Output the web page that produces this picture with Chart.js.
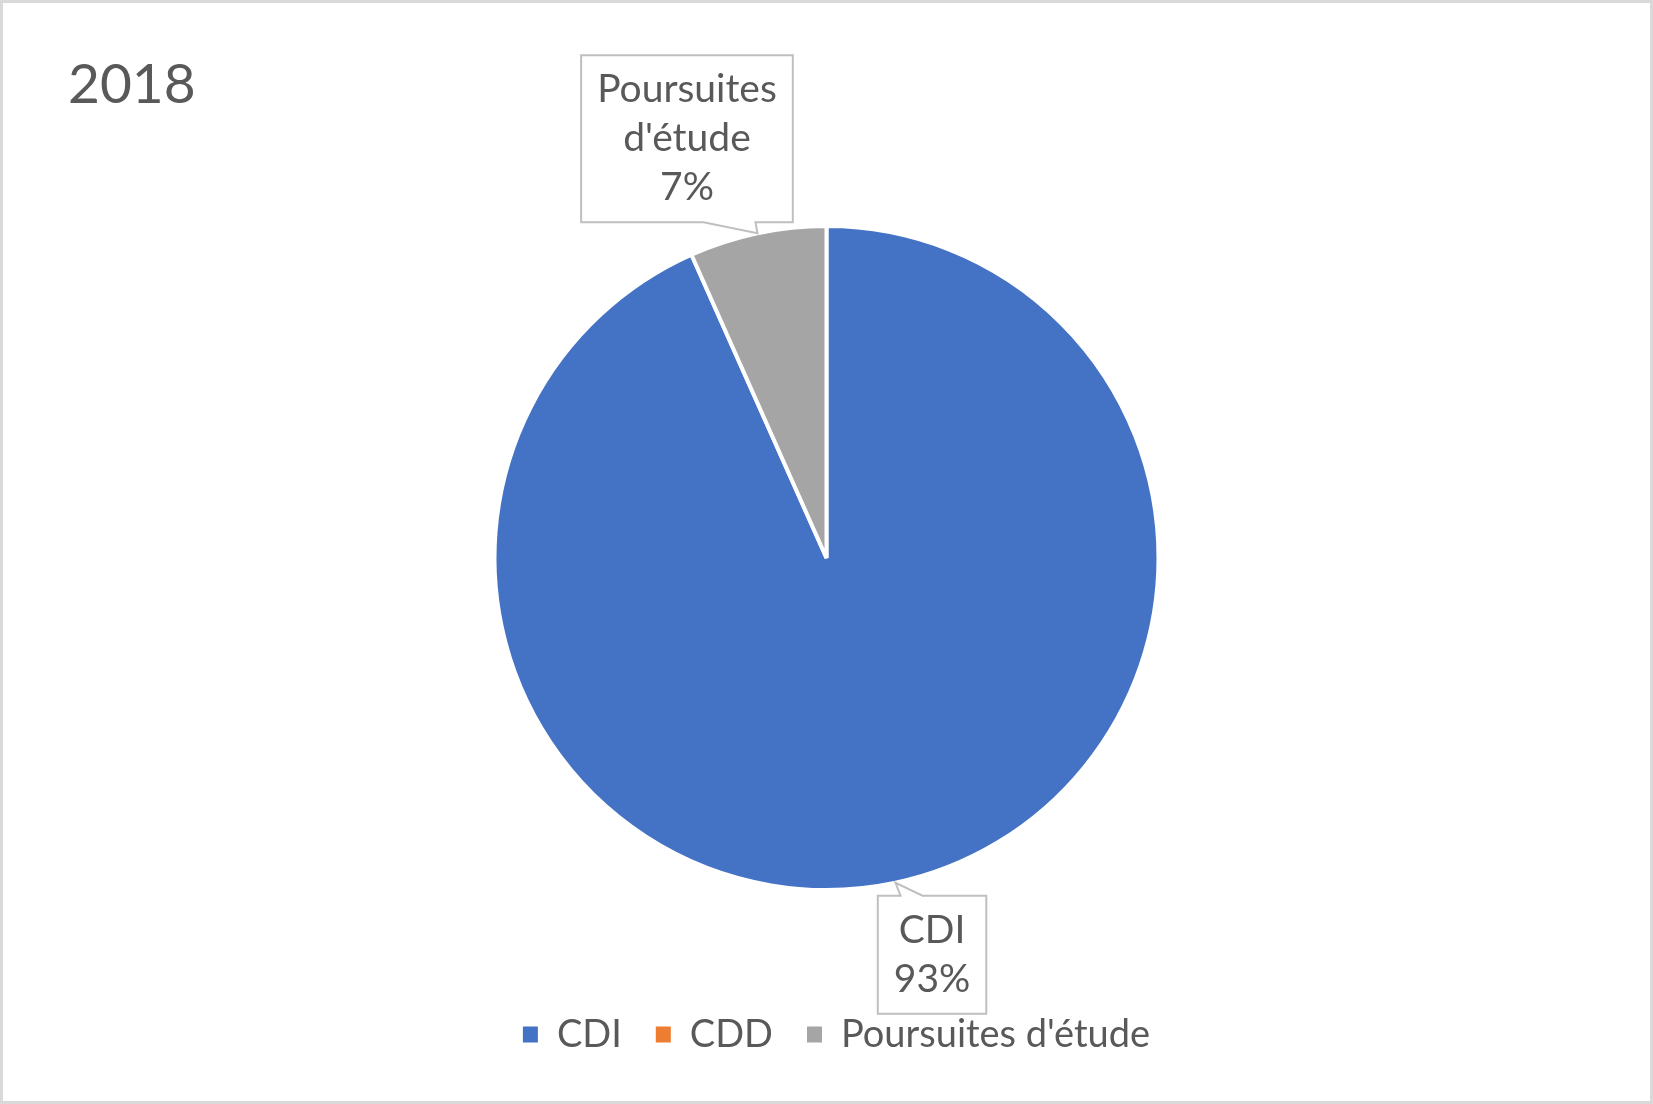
<!DOCTYPE html>
<html lang="fr">
<head>
<meta charset="utf-8">
<title>2018</title>
<script src="https://cdn.jsdelivr.net/npm/chart.js@4.4.1/dist/chart.umd.min.js"></script>
<style>
  html, body { margin: 0; padding: 0; background: #fff; }
  canvas { display: block; }
</style>
</head>
<body>
<canvas id="pieChart" width="1653" height="1104"></canvas>
<script>
const chartTitle = "2018";
const categories = ["CDI", "CDD", "Poursuites d'étude"];
const counts = [14, 0, 1];
const sliceColors = ["#4472C4", "#ED7D31", "#A5A5A5"];

const textColor = "#595959";
const fontFamily = "Lato, 'Open Sans', sans-serif";

// callout placement per slice: horizontal shift of the box and where the pointer leaves its edge
const calloutShift = [36.5, 0, -70.5];
const pointerBase = [[5, 27], [0, 0], [-54, -2]];

function wrapText(ctx, text, maxWidth) {
  const words = text.split(" ");
  const lines = [];
  let line = "";
  words.forEach(w => {
    const test = line ? line + " " + w : w;
    if (line && ctx.measureText(test).width > maxWidth) {
      lines.push(line);
      line = w;
    } else {
      line = test;
    }
  });
  if (line) lines.push(line);
  return lines;
}

const framePlugin = {
  id: "frame",
  beforeDraw(chart) {
    const ctx = chart.ctx;
    ctx.save();
    ctx.fillStyle = "#ffffff";
    ctx.fillRect(0, 0, chart.width, chart.height);
    ctx.strokeStyle = "#D9D9D9";
    ctx.lineWidth = 3;
    ctx.strokeRect(1.5, 1.5, chart.width - 3, chart.height - 3);
    ctx.restore();
  }
};

// the legend sits a little right of the pie centre in the original
const legendShiftPlugin = {
  id: "legendShift",
  afterLayout(chart) {
    chart.legend.left += 10;
    chart.legend.right += 10;
  }
};

const calloutPlugin = {
  id: "callouts",
  afterDatasetsDraw(chart) {
    const ctx = chart.ctx;
    const meta = chart.getDatasetMeta(0);
    const total = counts.reduce((a, b) => a + b, 0);
    const lineH = 49, padX = 16, padY = 10;
    ctx.save();
    ctx.font = "39px " + fontFamily;
    meta.data.forEach((arc, i) => {
      if (!counts[i]) return;
      const mid = (arc.startAngle + arc.endAngle) / 2;
      const tipX = arc.x + Math.cos(mid) * arc.outerRadius;
      const tipY = arc.y + Math.sin(mid) * arc.outerRadius;
      const pct = Math.round(counts[i] / total * 100) + "%";
      const lines = wrapText(ctx, categories[i], 190).concat([pct]);
      const w = Math.max(...lines.map(l => ctx.measureText(l).width)) + padX * 2;
      const h = lines.length * lineH + padY * 2;
      const above = Math.sin(mid) < 0;
      const left = tipX + calloutShift[i] - w / 2;
      const top = above ? tipY - 11 - h : tipY + 13;
      const right = left + w, bottom = top + h;
      const b0 = tipX + pointerBase[i][0], b1 = tipX + pointerBase[i][1];

      ctx.beginPath();
      ctx.moveTo(left, top);
      if (!above) {
        ctx.lineTo(b0, top);
        ctx.lineTo(tipX, tipY);
        ctx.lineTo(b1, top);
      }
      ctx.lineTo(right, top);
      ctx.lineTo(right, bottom);
      if (above) {
        ctx.lineTo(b1, bottom);
        ctx.lineTo(tipX, tipY);
        ctx.lineTo(b0, bottom);
      }
      ctx.lineTo(left, bottom);
      ctx.closePath();
      ctx.fillStyle = "#ffffff";
      ctx.fill();
      ctx.strokeStyle = "#BFBFBF";
      ctx.lineWidth = 2;
      ctx.stroke();

      ctx.fillStyle = textColor;
      ctx.textAlign = "center";
      ctx.textBaseline = "middle";
      lines.forEach((l, k) => {
        ctx.fillText(l, left + w / 2, top + padY + lineH * (k + 0.5));
      });
    });
    ctx.restore();
  }
};

new Chart(document.getElementById("pieChart"), {
  type: "pie",
  data: {
    labels: categories,
    datasets: [{
      data: counts,
      backgroundColor: sliceColors,
      borderColor: "#ffffff",
      borderWidth: 4,
      radius: 332
    }]
  },
  options: {
    responsive: false,
    animation: false,
    layout: { padding: { left: 68, right: 68, top: 0, bottom: 40.5 } },
    plugins: {
      title: {
        display: true,
        text: chartTitle,
        align: "start",
        color: textColor,
        font: { family: fontFamily, size: 55, weight: "normal" },
        padding: { top: 52, bottom: 16.5 }
      },
      legend: {
        position: "bottom",
        labels: {
          color: textColor,
          font: { family: fontFamily, size: 38 },
          boxWidth: 15,
          boxHeight: 16,
          padding: 34,
          generateLabels: () => categories.map((c, i) => ({
            text: c,
            fillStyle: sliceColors[i],
            strokeStyle: sliceColors[i],
            lineWidth: 0,
            fontColor: textColor,
            hidden: false,
            index: i
          }))
        }
      },
      tooltip: { enabled: false }
    }
  },
  plugins: [framePlugin, legendShiftPlugin, calloutPlugin]
});
</script>
</body>
</html>
